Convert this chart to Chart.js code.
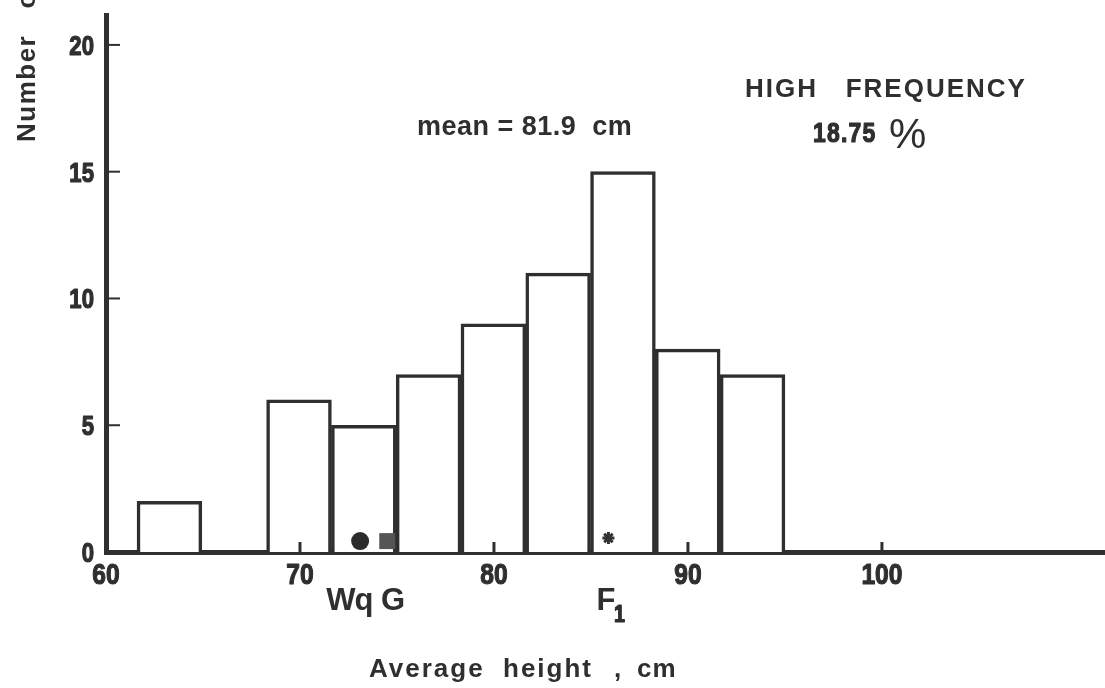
<!DOCTYPE html>
<html>
<head>
<meta charset="utf-8">
<title>Average height</title>
<script src="https://cdn.jsdelivr.net/npm/chart.js@4/dist/chart.umd.min.js"></script>
<style>
html, body { margin: 0; padding: 0; background: #fff; }
#wrap { width: 1105px; height: 688px; }
</style>
</head>
<body>
<div id="wrap"><canvas id="hist" width="1105" height="688"></canvas></div>
<script>
// histogram bins (cm) and number of plants in each
const binEdges = [61.6, 64.94, 68.28, 71.62, 74.96, 78.3, 81.64, 84.98, 88.32, 91.66, 95.0];
const counts = [2, 0, 6, 5, 7, 9, 11, 15, 8, 7];

const xTicks = [60, 70, 80, 90, 100];
const yTicks = [0, 5, 10, 15, 20];

// symbols resting on the axis
const markerX = [73.1, 74.5, 85.9];
const markerY = [0.43, 0.43, 0.55];
const markerStyles = ['circle', 'rect', 'star'];
const markerSizes = [9, 11.3, 6];
const markerColors = ['#2b2b2b', '#555555', '#333333'];

// letters printed under the axis
const symbolText = ['Wq', 'G', 'F'];
const symbolSub = ['', '', '1'];
const symbolX = [72.55, 74.77, 85.75];

const ink = '#2f2f2f';
const plain = "'Liberation Sans', Arial, sans-serif";

const binData = counts.map((c, i) => ({ x: (binEdges[i] + binEdges[i + 1]) / 2, y: c }));
const markerData = markerX.map((v, i) => ({ x: v, y: markerY[i] }));

function spaced(ctx, text, x, y, font, spacing, align) {
  ctx.font = font;
  ctx.letterSpacing = spacing + 'px';
  ctx.textAlign = align || 'left';
  ctx.fillText(text, x, y);
  ctx.letterSpacing = '0px';
}

// condensed heavy figures, squeezed horizontally and thickened with a stroke
function narrowText(ctx, text, x, y, size, align, squeeze) {
  ctx.save();
  ctx.font = 'bold ' + size + 'px ' + plain;
  ctx.textAlign = align;
  ctx.translate(x, y);
  ctx.scale(squeeze || 0.82, 1);
  ctx.lineWidth = 1.2;
  ctx.lineJoin = 'round';
  ctx.fillText(text, 0, 0);
  ctx.strokeText(text, 0, 0);
  ctx.restore();
}

const paperMarks = {
  id: 'paperMarks',
  afterDraw(chart) {
    const { ctx, scales: { x, y } } = chart;
    ctx.save();
    ctx.strokeStyle = ink;
    ctx.fillStyle = ink;
    ctx.lineCap = 'butt';
    ctx.textBaseline = 'alphabetic';

    // short ticks pointing into the plot
    ctx.lineWidth = 3;
    x.ticks.forEach(t => {
      if (t.value === x.min) return;
      const px = x.getPixelForValue(t.value);
      ctx.beginPath(); ctx.moveTo(px, y.bottom); ctx.lineTo(px, y.bottom - 10); ctx.stroke();
    });
    ctx.lineWidth = 2;
    y.ticks.forEach(t => {
      if (t.value === 0) return;
      const py = y.getPixelForValue(t.value);
      ctx.beginPath(); ctx.moveTo(x.left, py); ctx.lineTo(x.left + 14, py); ctx.stroke();
    });

    // tick labels
    x.ticks.forEach(t => narrowText(ctx, String(t.value), x.getPixelForValue(t.value), 584, 30, 'center'));
    y.ticks.forEach(t => narrowText(ctx, String(t.value), 94, y.getPixelForValue(t.value) + 10, 27, 'right'));

    // symbol letters
    symbolText.forEach((t, i) => {
      const px = x.getPixelForValue(symbolX[i]);
      ctx.font = 'bold 31px ' + plain;
      ctx.letterSpacing = '-1px';
      ctx.textAlign = 'center';
      ctx.fillText(t, px, 610);
      ctx.letterSpacing = '0px';
      if (symbolSub[i]) {
        const w = ctx.measureText(t).width;
        narrowText(ctx, symbolSub[i], px + w / 2 - 1, 622, 24, 'left');
      }
    });

    // annotations
    spaced(ctx, 'mean = 81.9  cm', 417, 135, 'bold 27px ' + plain, 0.5);
    spaced(ctx, 'HIGH   FREQUENCY', 745, 97, 'bold 26px ' + plain, 2.0);
    ctx.letterSpacing = '1.5px';
    narrowText(ctx, '18.75', 813, 142, 28, 'left');
    ctx.letterSpacing = '0px';
    spaced(ctx, '%', 889, 148, '42px ' + plain, 0);
    const titleFont = 'bold 26px ' + plain;
    spaced(ctx, 'Average', 369, 677, titleFont, 2);
    spaced(ctx, 'height', 503, 677, titleFont, 2);
    spaced(ctx, ',', 614, 677, titleFont, 0);
    spaced(ctx, 'cm', 637, 677, titleFont, 1);

    // rotated axis title
    ctx.translate(35, 142);
    ctx.rotate(-Math.PI / 2);
    spaced(ctx, 'Number   of  plants', 0, 0, 'bold 26px ' + plain, 1.5);
    ctx.restore();
  }
};

new Chart(document.getElementById('hist'), {
  data: {
    datasets: [
      {
        type: 'bar',
        data: binData,
        backgroundColor: '#ffffff',
        borderColor: ink,
        borderWidth: 3.5,
        barPercentage: 1,
        categoryPercentage: 1,
        order: 2
      },
      {
        type: 'scatter',
        data: markerData,
        pointStyle: markerStyles,
        pointRadius: markerSizes,
        backgroundColor: markerColors,
        borderColor: markerColors,
        borderWidth: [0, 0, 3],
        clip: false,
        order: 1
      }
    ]
  },
  options: {
    responsive: false,
    devicePixelRatio: 1,
    animation: false,
    layout: { autoPadding: false, padding: { top: 15, right: 0, left: 0, bottom: 0 } },
    plugins: { legend: { display: false }, tooltip: { enabled: false } },
    scales: {
      x: {
        type: 'linear',
        offset: false,
        min: 60,
        max: 111.5,
        z: 1,
        afterFit: s => { s.height = 136; s.paddingLeft = 0; s.paddingRight = 0; },
        afterBuildTicks: s => { s.ticks = xTicks.map(v => ({ value: v })); },
        grid: { display: false, drawTicks: false },
        border: { display: true, width: 5, color: ink },
        ticks: { display: false }
      },
      y: {
        min: 0,
        max: 21.18,
        z: 1,
        afterFit: s => { s.width = 106; },
        afterBuildTicks: s => { s.ticks = yTicks.map(v => ({ value: v })); },
        grid: { display: false, drawTicks: false },
        border: { display: true, width: 5, color: ink },
        ticks: { display: false }
      }
    }
  },
  plugins: [paperMarks]
});
</script>
</body>
</html>
